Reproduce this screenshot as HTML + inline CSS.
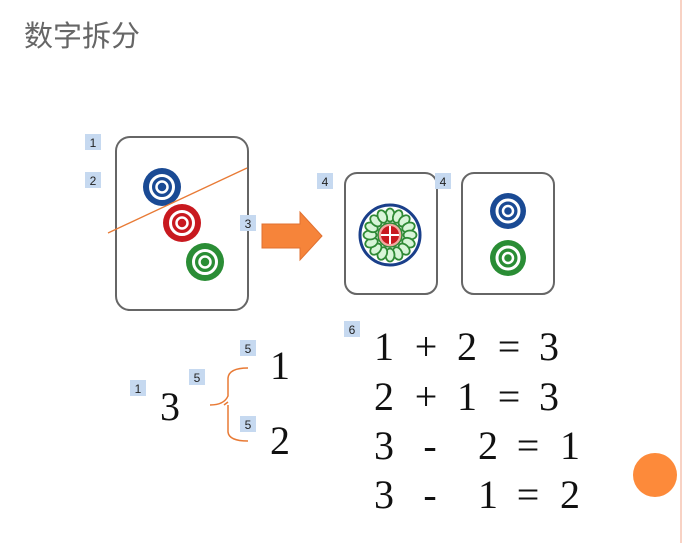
<!DOCTYPE html>
<html><head><meta charset="utf-8"><style>
body{margin:0;background:#fff;}
svg{display:block}
</style></head><body>
<svg width="683" height="543" viewBox="0 0 683 543" xmlns="http://www.w3.org/2000/svg">
<defs>
<g id="dot">
<circle r="19" fill="currentColor"/>
<circle r="11.5" fill="none" stroke="#fff" stroke-width="3"/>
<circle r="5.5" fill="none" stroke="#fff" stroke-width="2.5"/>
</g>
<g id="dots">
<circle r="18" fill="currentColor"/>
<circle r="11" fill="none" stroke="#fff" stroke-width="3"/>
<circle r="5" fill="none" stroke="#fff" stroke-width="2.5"/>
</g>
</defs>
<line x1="681" y1="0" x2="681" y2="543" stroke="#f6c3b0" stroke-width="1.5"/>
<circle cx="655" cy="475" r="22" fill="#fd8a3a"/>
<text x="24" y="46" font-family="Liberation Sans, Noto Sans CJK SC, sans-serif" font-size="29" fill="#666">数字拆分</text>

<rect x="116" y="137" width="132" height="173" rx="14" fill="#fff" stroke="#666" stroke-width="2"/>
<g color="#1a4a94" transform="translate(162,187)"><use href="#dot"/></g>
<g color="#c8191f" transform="translate(182,223)"><use href="#dot"/></g>
<g color="#2a8d35" transform="translate(205,262)"><use href="#dot"/></g>
<line x1="108" y1="233" x2="247" y2="168" stroke="#e87a35" stroke-width="1.3"/>
<polygon points="262,224 300,224 300,212 322,236 300,260 300,248 262,248" fill="#f6843a" stroke="#e07030" stroke-width="1"/>

<rect x="345" y="173" width="92" height="121" rx="12" fill="#fff" stroke="#666" stroke-width="2"/>
<rect x="462" y="173" width="92" height="121" rx="12" fill="#fff" stroke="#666" stroke-width="2"/>
<g transform="translate(390,235)">
<circle r="30" fill="#fff" stroke="#1a3f8a" stroke-width="3"/>
<g fill="#d8f5d8" stroke="#2f8a35" stroke-width="1.8">
<ellipse cx="0" cy="-20" rx="4.5" ry="6.5" transform="rotate(0)"/>
<ellipse cx="0" cy="-20" rx="4.5" ry="6.5" transform="rotate(22.5)"/>
<ellipse cx="0" cy="-20" rx="4.5" ry="6.5" transform="rotate(45)"/>
<ellipse cx="0" cy="-20" rx="4.5" ry="6.5" transform="rotate(67.5)"/>
<ellipse cx="0" cy="-20" rx="4.5" ry="6.5" transform="rotate(90)"/>
<ellipse cx="0" cy="-20" rx="4.5" ry="6.5" transform="rotate(112.5)"/>
<ellipse cx="0" cy="-20" rx="4.5" ry="6.5" transform="rotate(135)"/>
<ellipse cx="0" cy="-20" rx="4.5" ry="6.5" transform="rotate(157.5)"/>
<ellipse cx="0" cy="-20" rx="4.5" ry="6.5" transform="rotate(180)"/>
<ellipse cx="0" cy="-20" rx="4.5" ry="6.5" transform="rotate(202.5)"/>
<ellipse cx="0" cy="-20" rx="4.5" ry="6.5" transform="rotate(225)"/>
<ellipse cx="0" cy="-20" rx="4.5" ry="6.5" transform="rotate(247.5)"/>
<ellipse cx="0" cy="-20" rx="4.5" ry="6.5" transform="rotate(270)"/>
<ellipse cx="0" cy="-20" rx="4.5" ry="6.5" transform="rotate(292.5)"/>
<ellipse cx="0" cy="-20" rx="4.5" ry="6.5" transform="rotate(315)"/>
<ellipse cx="0" cy="-20" rx="4.5" ry="6.5" transform="rotate(337.5)"/>
</g>
<circle r="12" fill="#f4a8a0" stroke="#2f8a35" stroke-width="1.5"/>
<circle r="9" fill="#c8191f"/>
<line x1="-9" y1="0" x2="9" y2="0" stroke="#fff" stroke-width="2"/>
<line x1="0" y1="-9" x2="0" y2="9" stroke="#fff" stroke-width="2"/>
</g>
<g color="#1a4a94" transform="translate(508,211)"><use href="#dots"/></g>
<g color="#2a8d35" transform="translate(508,258)"><use href="#dots"/></g>

<path d="M210,405 Q224,405 228,396 L228,378 Q229,368 248,368 M228,405 L228,432 Q229,441 248,441 M224,405 L228,402" fill="none" stroke="#e87a35" stroke-width="1.5"/>

<g font-family="Liberation Sans, sans-serif" font-size="12" fill="#222" text-anchor="middle">
<rect x="85" y="134" width="16" height="16" fill="#c6d9f0"/><text x="93" y="147">1</text>
<rect x="85" y="172" width="16" height="16" fill="#c6d9f0"/><text x="93" y="185">2</text>
<rect x="240" y="215" width="16" height="16" fill="#c6d9f0"/><text x="248" y="228">3</text>
<rect x="317" y="173" width="16" height="16" fill="#c6d9f0"/><text x="325" y="186">4</text>
<rect x="435" y="173" width="16" height="16" fill="#c6d9f0"/><text x="443" y="186">4</text>
<rect x="240" y="340" width="16" height="16" fill="#c6d9f0"/><text x="248" y="353">5</text>
<rect x="189" y="369" width="16" height="16" fill="#c6d9f0"/><text x="197" y="382">5</text>
<rect x="240" y="416" width="16" height="16" fill="#c6d9f0"/><text x="248" y="429">5</text>
<rect x="130" y="380" width="16" height="16" fill="#c6d9f0"/><text x="138" y="393">1</text>
<rect x="344" y="321" width="16" height="16" fill="#c6d9f0"/><text x="352" y="334">6</text>
</g>

<g font-family="Liberation Serif, serif" font-size="40" fill="#111" text-anchor="middle">
<text x="170" y="420">3</text>
<text x="280" y="379">1</text>
<text x="280" y="454">2</text>
<text x="384" y="360">1</text><text x="426" y="360">+</text><text x="467" y="360">2</text><text x="509" y="360">=</text><text x="549" y="360">3</text>
<text x="384" y="410">2</text><text x="426" y="410">+</text><text x="467" y="410">1</text><text x="509" y="410">=</text><text x="549" y="410">3</text>
<text x="384" y="459">3</text><text x="488" y="459">2</text><text x="528" y="459">=</text><text x="570" y="459">1</text>
<text x="384" y="508">3</text><text x="488" y="508">1</text><text x="528" y="508">=</text><text x="570" y="508">2</text>
</g>
<text x="430" y="459" font-family="Liberation Serif, serif" font-size="40" fill="#111" text-anchor="middle">-</text>
<text x="430" y="508" font-family="Liberation Serif, serif" font-size="40" fill="#111" text-anchor="middle">-</text>
</svg>
</body></html>
